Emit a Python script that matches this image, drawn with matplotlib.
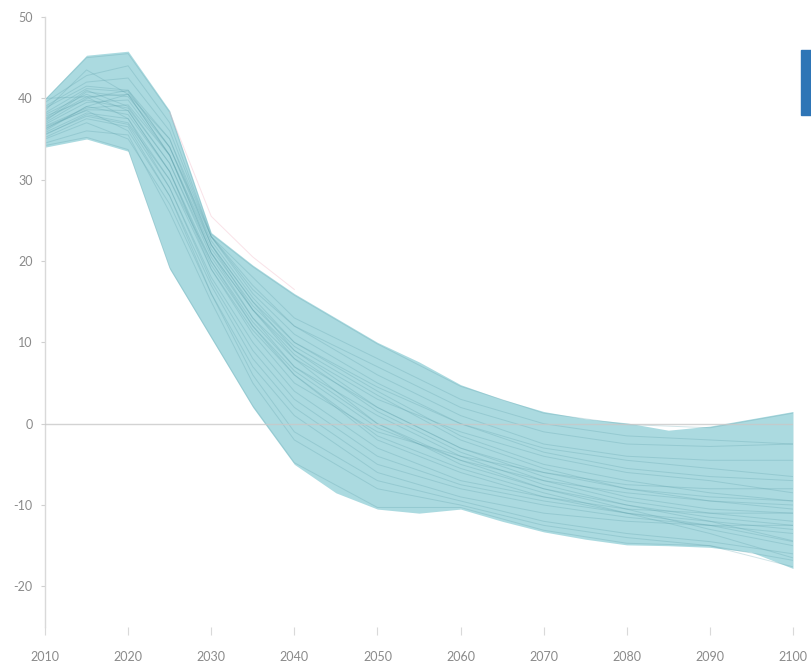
import matplotlib.pyplot as plt
from matplotlib.patches import Rectangle

plt.rcParams['axes.unicode_minus'] = False

# envelope of all scenarios (5-year steps)
band_years = [2010, 2015, 2020, 2025, 2030, 2035, 2040, 2045, 2050, 2055,
              2060, 2065, 2070, 2075, 2080, 2085, 2090, 2095, 2100]
band_upper = [40.0, 45.3, 45.8, 38.5, 23.5, 19.5, 16.0, 13.0, 10.0, 7.6,
              4.8, 3.0, 1.5, 0.6, 0.1, -0.8, -0.3, 0.6, 1.5]
band_lower = [34.0, 35.0, 33.5, 19.0, 10.5, 2.0, -5.0, -8.5, -10.5, -11.0,
              -10.5, -12.0, -13.3, -14.2, -14.9, -15.0, -15.2, -15.8, -17.8]

# individual scenario pathways
years = [2010, 2015, 2020, 2025, 2030, 2035, 2040, 2050, 2060, 2070, 2080, 2090, 2100]
s01 = [39.8, 45.0, 45.5, 38.3, 23.3, 19.3, 15.8, 9.8, 4.6, 1.3, -0.1, -0.5, 1.3]
s02 = [34.2, 35.2, 33.7, 19.2, 10.7, 2.2, -4.8, -10.3, -10.3, -13.1, -14.7, -15.0, -17.6]
s03 = [38.5, 43.5, 40.5, 33.0, 22.0, 15.0, 9.0, 2.0, -3.0, -6.0, -8.0, -9.0, -9.5]
s04 = [37.0, 40.0, 41.0, 34.0, 23.0, 16.0, 11.0, 5.0, 0.0, -3.0, -4.5, -5.5, -6.5]
s05 = [36.0, 39.0, 40.5, 35.0, 22.0, 14.0, 8.0, 0.0, -5.0, -8.0, -10.0, -11.5, -12.5]
s06 = [35.5, 38.0, 37.0, 30.0, 20.0, 12.0, 6.0, -2.0, -6.0, -9.0, -11.0, -12.5, -14.5]
s07 = [37.5, 41.0, 39.0, 32.0, 21.0, 13.0, 7.0, 1.0, -4.0, -7.5, -10.0, -12.0, -14.4]
s08 = [36.5, 38.5, 36.0, 28.0, 17.0, 8.0, 2.0, -5.0, -8.0, -10.0, -11.5, -12.5, -13.5]
s09 = [39.0, 42.0, 42.5, 36.0, 23.0, 17.0, 12.0, 7.0, 2.0, -1.0, -2.5, -2.8, -2.5]
s10 = [35.0, 37.0, 35.0, 27.0, 16.0, 6.0, -1.0, -7.0, -9.5, -12.0, -13.5, -14.5, -16.0]
s11 = [38.0, 40.5, 38.5, 31.0, 19.0, 11.0, 5.0, -1.0, -4.0, -6.0, -7.5, -8.0, -8.0]
s12 = [36.8, 39.5, 39.8, 33.0, 21.0, 14.0, 9.0, 3.0, -1.0, -4.0, -6.0, -7.0, -8.5]
s13 = [35.8, 38.2, 37.5, 29.0, 18.0, 10.0, 4.0, -3.0, -7.0, -9.0, -10.5, -11.0, -11.0]
s14 = [37.2, 40.8, 40.2, 34.0, 22.5, 15.5, 10.0, 4.0, -1.5, -5.0, -7.0, -8.5, -9.5]
s15 = [36.2, 39.0, 38.0, 31.0, 20.0, 12.5, 7.0, 0.0, -4.5, -8.0, -10.5, -13.0, -15.0]
s16 = [38.8, 41.5, 41.0, 35.0, 23.0, 16.5, 12.0, 6.0, 1.0, -2.5, -4.0, -4.5, -4.5]
s17 = [35.2, 37.5, 36.5, 28.0, 16.0, 7.0, 1.0, -6.0, -9.0, -11.0, -12.0, -12.5, -12.5]
s18 = [37.8, 39.8, 38.8, 32.0, 20.5, 13.0, 8.0, 2.0, -3.0, -6.5, -9.0, -10.5, -11.0]
s19 = [36.6, 38.8, 39.2, 33.0, 21.5, 14.5, 9.5, 3.5, -2.0, -5.5, -8.0, -9.5, -10.5]
s20 = [39.5, 42.8, 44.0, 37.0, 23.0, 18.0, 13.0, 8.0, 3.0, 0.0, -1.5, -2.0, -2.5]
s21 = [35.6, 37.8, 36.8, 29.0, 17.5, 9.0, 3.0, -4.0, -7.5, -9.5, -11.0, -12.0, -13.0]
s22 = [37.4, 40.2, 37.5, 30.0, 19.0, 11.5, 6.0, -1.5, -5.5, -8.5, -11.0, -13.5, -16.5]
s23 = [38.2, 41.2, 40.8, 34.0, 22.0, 15.0, 10.0, 4.5, 0.0, -3.5, -5.5, -6.5, -7.0]
s24 = [36.3, 38.6, 38.5, 31.0, 19.5, 12.0, 6.5, -0.5, -4.5, -7.0, -8.5, -9.5, -10.0]
s25 = [40.0, 40.2, 40.5, 33.0, 21.0, 14.0, 8.5, 1.5, -3.5, -7.0, -9.5, -11.0, -12.0]
s26 = [34.5, 36.0, 35.5, 26.0, 15.0, 5.0, -2.0, -8.0, -10.0, -12.5, -14.0, -15.0, -16.8]
scenarios = [s01, s02, s03, s04, s05, s06, s07, s08, s09, s10, s11, s12, s13,
             s14, s15, s16, s17, s18, s19, s20, s21, s22, s23, s24, s25, s26]

# faint outlier pathway just outside the band
outlier_years = [2025, 2030, 2035, 2040]
outlier = [38.3, 25.5, 20.5, 16.5]

yticks = [-20, -10, 0, 10, 20, 30, 40, 50]
xticks = [2010, 2020, 2030, 2040, 2050, 2060, 2070, 2080, 2090, 2100]

fig = plt.figure(figsize=(8.11, 6.65), dpi=100)
ax = fig.add_axes([0.0555, 0.0571, 0.9223, 0.9173])

ax.fill_between(band_years, band_lower, band_upper, color='#abdae0', lw=0, zorder=1)
for s in scenarios:
    ax.plot(years, s, color='#5c9faa', lw=0.7, alpha=0.28, zorder=2)
ax.plot(outlier_years, outlier, color='#f2b8c6', lw=0.7, alpha=0.4, zorder=2)
ax.axhline(0, color='#c8c8c8', lw=1, alpha=0.8, zorder=3)

ax.set_xlim(2010, 2100)
ax.set_ylim(-25, 50)
ax.set_xticks(xticks)
ax.set_yticks(yticks)

for side in ['top', 'right', 'bottom']:
    ax.spines[side].set_visible(False)
ax.spines['left'].set_color('#d9d9d9')
ax.spines['left'].set_linewidth(1)

ax.tick_params(axis='y', length=3, color='#d0d0d0', labelcolor='#8a8a8a',
               labelsize=9, pad=6)
ax.tick_params(axis='x', length=6, color='#d9d9d9', labelcolor='#8a8a8a',
               labelsize=9, pad=11)
for lab in ax.get_xticklabels() + ax.get_yticklabels():
    lab.set_fontfamily('Lato')

# legend marker, cut by the right edge
fig.patches.append(Rectangle((801 / 811, 1 - 115 / 665), 10 / 811, 65 / 665,
                             transform=fig.transFigure, color='#2e75b6'))

plt.savefig('out.png', dpi=100)
